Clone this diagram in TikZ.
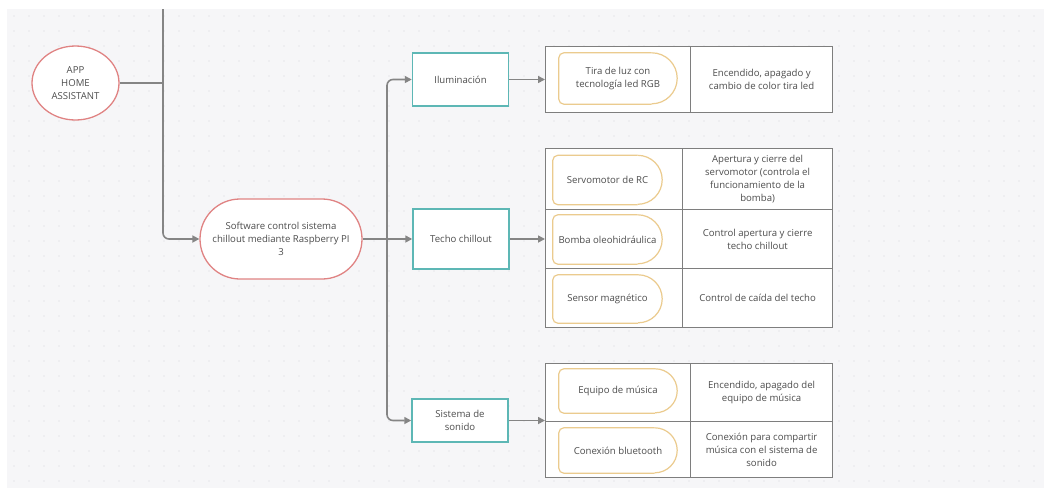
\documentclass[tikz,border=0pt]{standalone}
\usepackage{fontspec}
\setmainfont{Open Sans}
\usetikzlibrary{shapes.geometric,arrows.meta,calc}
\definecolor{bgpanel}{HTML}{F6F6F8}
\definecolor{dotc}{HTML}{D6D6DC}
\definecolor{wire}{HTML}{858585}
\definecolor{rose}{HTML}{E08383}
\definecolor{tealc}{HTML}{5DB7B5}
\definecolor{sand}{HTML}{EBCB8E}
\definecolor{txt}{HTML}{4D4D4D}
\definecolor{gridline}{HTML}{7E7E7E}

% D-shaped outline: small corners on the left, half circle on the right
\newcommand\dshape[2]{%
  \draw[yel] ([xshift=-#2]#1.north east) arc[start angle=90,end angle=-90,radius=#2];
  \draw[yel,rounded corners=5pt] ([xshift=-#2]#1.south east) -- (#1.south west)
      -- (#1.north west) -- ([xshift=-#2]#1.north east);}

\begin{document}
\begin{tikzpicture}[x=1pt,y=-1pt,
  font=\fontsize{9.6}{13}\selectfont, text=txt,
  conn/.style={draw=wire,line width=1.6pt},
  arr/.style={conn,-{Triangle[length=7pt,width=7pt]}},
  oval/.style={draw=rose,line width=1.3pt,fill=white,align=center,inner sep=0pt},
  group/.style={draw=tealc,line width=1.5pt,fill=white,align=center,
                minimum width=96pt,inner sep=0pt},
  cellbox/.style={draw=gridline,line width=1.2pt,fill=white,align=center,
                  inner sep=0pt,anchor=north west},
  tag/.style={align=center,inner sep=0pt},
  yel/.style={draw=sand,line width=1.2pt}
]
\useasboundingbox (0,0) rectangle (1044,488);
% canvas with dotted grid
\fill[white] (0,0) rectangle (1044,488);
\fill[bgpanel] (7,9) rectangle (1044,488);
\foreach \i in {0,...,68}
  \foreach \j in {0,...,31}
    \fill[dotc] (14+15*\i,16+15*\j) circle[radius=0.7pt];

% sources
\node[oval,ellipse,minimum width=87pt,minimum height=74pt] (app) at (75.5,83)
  {APP\\HOME\\ASSISTANT};
\node[oval,rounded corners=40pt,minimum width=162pt,minimum height=80pt] (sw) at (281,239)
  {Software control sistema\\chillout mediante Raspberry PI\\3};

% subsystems
\node[group,minimum height=53pt] (ilum) at (460.5,79.5) {Iluminación};
\node[group,minimum height=60pt] (techo) at (461,239) {Techo chillout};
\node[group,minimum height=43pt] (son) at (460,420.5) {Sistema de\\sonido};

% lighting table
\node[cellbox,minimum width=145pt,minimum height=66pt] (l1) at (545,46) {};
\node[cellbox,minimum width=142pt,minimum height=66pt] (l1d) at (690,46)
  {Encendido, apagado y\\cambio de color tira led};

% roof table
\node[cellbox,minimum width=137pt,minimum height=61pt] (t1) at (545,148) {};
\node[cellbox,minimum width=150pt,minimum height=61pt] (t1d) at (682,148)
  {Apertura y cierre del\\servomotor (controla el\\funcionamiento de la\\bomba)};
\node[cellbox,minimum width=137pt,minimum height=59pt] (t2) at (545,209) {};
\node[cellbox,minimum width=150pt,minimum height=59pt] (t2d) at (682,209)
  {Control apertura y cierre\\techo chillout};
\node[cellbox,minimum width=137pt,minimum height=59pt] (t3) at (545,268) {};
\node[cellbox,minimum width=150pt,minimum height=59pt] (t3d) at (682,268)
  {Control de caída del techo};

% sound table
\node[cellbox,minimum width=145pt,minimum height=58pt] (s1) at (545,363) {};
\node[cellbox,minimum width=142pt,minimum height=58pt] (s1d) at (690,363)
  {Encendido, apagado del\\equipo de música};
\node[cellbox,minimum width=145pt,minimum height=56pt] (s2) at (545,421) {};
\node[cellbox,minimum width=142pt,minimum height=56pt] (s2d) at (690,421)
  {Conexión para compartir\\música con el sistema de\\sonido};

% components
\node[tag,minimum width=118pt,minimum height=51pt] (c1) at (618,78.5)
  {Tira de luz con\\tecnología led RGB};
\node[tag,minimum width=109pt,minimum height=49pt] (c2) at (607.5,180) {Servomotor de RC};
\node[tag,minimum width=109pt,minimum height=49pt] (c3) at (607.5,239.5) {Bomba oleohidráulica};
\node[tag,minimum width=109pt,minimum height=48pt] (c4) at (607.5,299) {Sensor magnético};
\node[tag,minimum width=118pt,minimum height=44pt] (c5) at (618,391) {Equipo de música};
\node[tag,minimum width=118pt,minimum height=45pt] (c6) at (618,450.5) {Conexión bluetooth};
\dshape{c1}{25.5pt}
\dshape{c2}{24.5pt}
\dshape{c3}{24.5pt}
\dshape{c4}{24pt}
\dshape{c5}{22pt}
\dshape{c6}{22.5pt}

% wiring
\coordinate (top) at (163,9);
\coordinate (tj) at (163,83);
\coordinate (tr) at (387,239);
\draw[conn] (app.east) -- (tj);
\draw[arr,rounded corners=6pt] (top) |- (sw.west);
\draw[conn] (sw.east) -- (tr);
\draw[arr,rounded corners=6pt] (tr) |- (ilum.west);
\draw[arr] (tr) -- (techo.west);
\draw[arr,rounded corners=6pt] (tr) |- (son.west);
\draw[arr] (ilum.east) -- (ilum.east -| l1.west);
\draw[arr] (techo.east) -- (techo.east -| t2.west);
\draw[arr] (son.east) -- (son.east -| s2.north west);
\end{tikzpicture}
\end{document}
